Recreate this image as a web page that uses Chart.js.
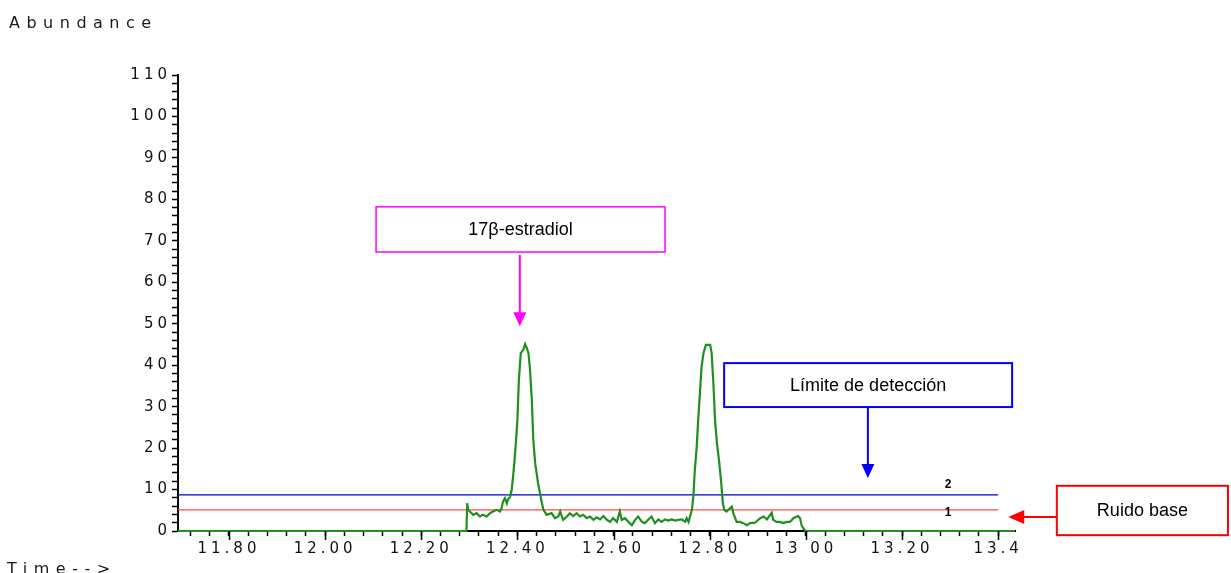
<!DOCTYPE html>
<html>
<head>
<meta charset="utf-8">
<script src="https://cdn.jsdelivr.net/npm/chart.js@4.4.1/dist/chart.umd.min.js"></script>
<style>
  html, body { margin: 0; padding: 0; background: #ffffff; }
  #wrap { width: 1231px; height: 573px; position: relative; }
</style>
</head>
<body>
<div id="wrap"><canvas id="c" width="1231" height="573"></canvas></div>
<script>
// ---------------- DATA ----------------
const times = [
  11.694, 12.294, 12.2955, 12.2975, 12.301, 12.308, 12.315, 12.322, 12.328, 12.336,
  12.343, 12.349, 12.357, 12.364, 12.367, 12.370, 12.374, 12.378, 12.380, 12.385,
  12.388, 12.391, 12.394, 12.396, 12.400, 12.403, 12.407, 12.412, 12.416, 12.420,
  12.423, 12.426, 12.430, 12.433, 12.437, 12.440, 12.443, 12.447, 12.451, 12.454,
  12.461, 12.471, 12.478, 12.485, 12.489, 12.495, 12.503, 12.509, 12.516, 12.523,
  12.530, 12.537, 12.544, 12.551, 12.558, 12.565, 12.572, 12.579, 12.586, 12.593,
  12.599, 12.607, 12.613, 12.617, 12.624, 12.631, 12.638, 12.645, 12.651, 12.659,
  12.665, 12.672, 12.679, 12.686, 12.693, 12.700, 12.707, 12.714, 12.721, 12.728,
  12.735, 12.742, 12.749, 12.752, 12.756, 12.759, 12.763, 12.766, 12.769, 12.773,
  12.776, 12.780, 12.783, 12.787, 12.792, 12.801, 12.804, 12.808, 12.811, 12.815,
  12.820, 12.824, 12.827, 12.830, 12.835, 12.842, 12.846, 12.849, 12.856, 12.863,
  12.870, 12.877, 12.884, 12.894, 12.905, 12.912, 12.919, 12.929, 12.932, 12.939,
  12.946, 12.953, 12.960, 12.967, 12.974, 12.984, 12.988, 12.991, 12.995, 12.999,
  13.435
];
const abundance = [
  0, 0, 6.7, 5.1, 4.7, 3.9, 4.3, 3.5, 3.9, 3.5,
  4.3, 4.7, 5.1, 4.7, 5.5, 7.1, 7.9, 6.7, 7.5, 8.3,
  9.9, 13.1, 17.1, 20.0, 26.8, 36.4, 42.9, 43.7, 45.1, 44.0,
  42.9, 39.2, 31.5, 22.0, 16.3, 13.9, 11.5, 9.1, 6.7, 5.1,
  3.9, 4.3, 3.1, 3.5, 4.7, 2.7, 3.5, 4.3, 3.6, 4.3,
  3.5, 3.9, 3.1, 3.5, 2.7, 3.3, 2.8, 3.6, 2.7, 2.2,
  3.1, 2.2, 4.7, 2.7, 3.1, 2.2, 1.4, 2.7, 3.5, 2.2,
  1.9, 2.7, 3.5, 1.9, 2.8, 2.2, 2.8, 2.5, 2.8, 2.5,
  2.7, 2.8, 2.2, 3.1, 2.2, 3.5, 5.1, 8.5, 14.7, 20.3,
  26.8, 34.0, 39.6, 42.9, 44.9, 44.9, 42.9, 34.8, 26.8, 21.2,
  16.3, 11.5, 7.1, 5.1, 4.7, 5.5, 5.9, 4.3, 2.2, 2.2,
  1.9, 1.4, 1.9, 2.0, 3.1, 3.5, 2.8, 4.4, 2.7, 2.2,
  2.2, 1.9, 2.2, 2.2, 3.1, 3.6, 3.1, 1.4, 0.6, 0,
  0
];
const noiseLevel = 5.1;        // line 1 (ruido base)
const detectionLimit = 8.7;    // line 2 (límite de detección)
const levelLineStart = 11.694;
const levelLineEnd = 13.40;

const xLabelValues = [11.80, 12.00, 12.20, 12.40, 12.60, 12.80, 13.00, 13.20, 13.40];
const xTickLabels  = ['11.80', '12.00', '12.20', '12.40', '12.60', '12.80', '13 00', '13.20', '13.4'];
const yLabelValues = [0, 10, 20, 30, 40, 50, 60, 70, 80, 90, 100, 110];
const yTickLabels  = ['0', '10', '20', '30', '40', '50', '60', '70', '80', '90', '100', '110'];

// ---------------- ANNOTATION LAYOUT (data units) ----------------
const notes = [
  { text: '17β-estradiol', x0: 12.106, x1: 12.707, y0: 67.3, y1: 78.2, color: '#ff00ff', lw: 1.5,
    arrow: { dir: 'down', x: 12.405, from: 66.6, to: 49.4 } },
  { text: 'Límite de detección', x0: 12.830, x1: 13.429, y0: 29.9, y1: 40.5, color: '#0000ff', lw: 2,
    arrow: { dir: 'down', x: 13.129, from: 29.8, to: 12.8 } },
  { text: 'Ruido base', x0: 13.522, x1: 13.878, y0: -1.0, y1: 10.9, color: '#ff0000', lw: 2,
    arrow: { dir: 'left', y: 3.4, from: 13.522, to: 13.421 } }
];

const points = times.map((t, i) => ({ x: t, y: abundance[i] }));

function near(a, b) { return Math.abs(a - b) < 1e-6; }

const FONT_AXIS = '"DejaVu Sans", sans-serif';

const annotationPlugin = {
  id: 'notes',
  beforeDraw(chart) {
    chart.ctx.letterSpacing = '4px';
  },
  beforeDatasetsDraw(chart) {
    chart.ctx.letterSpacing = '0px';
  },
  afterDraw(chart) {
    const ctx = chart.ctx;
    const xs = chart.scales.x, ys = chart.scales.y;
    ctx.save();
    ctx.letterSpacing = '0px';
    // taller ticks at labelled positions
    ctx.strokeStyle = '#000';
    ctx.lineWidth = 1.5;
    xLabelValues.forEach(v => {
      const px = Math.round(xs.getPixelForValue(v)) + 0.5;
      ctx.beginPath();
      ctx.moveTo(px, xs.top);
      ctx.lineTo(px, xs.top + 9);
      ctx.stroke();
    });
    // line labels 1 and 2
    ctx.fillStyle = '#000';
    ctx.font = 'bold 12px "Liberation Sans", Arial, sans-serif';
    ctx.textAlign = 'center';
    ctx.textBaseline = 'middle';
    ctx.fillText('2', xs.getPixelForValue(13.296), ys.getPixelForValue(detectionLimit) - 10);
    ctx.fillText('1', xs.getPixelForValue(13.296), ys.getPixelForValue(noiseLevel) + 2.5);

    // annotation boxes
    notes.forEach(n => {
      const l = xs.getPixelForValue(n.x0), r = xs.getPixelForValue(n.x1);
      const t = ys.getPixelForValue(n.y1), b = ys.getPixelForValue(n.y0);
      ctx.fillStyle = '#fff';
      ctx.fillRect(l, t, r - l, b - t);
      ctx.strokeStyle = n.color;
      ctx.lineWidth = n.lw;
      ctx.strokeRect(l, t, r - l, b - t);
      ctx.fillStyle = '#000';
      ctx.font = '18px "Liberation Sans", Arial, sans-serif';
      ctx.textAlign = 'center';
      ctx.textBaseline = 'middle';
      ctx.fillText(n.text, (l + r) / 2, (t + b) / 2 + 1);
      // arrow
      const a = n.arrow;
      ctx.strokeStyle = n.color;
      ctx.fillStyle = n.color;
      ctx.lineWidth = 2;
      if (a.dir === 'down') {
        const x = xs.getPixelForValue(a.x);
        const y0 = ys.getPixelForValue(a.from), y1 = ys.getPixelForValue(a.to);
        ctx.beginPath(); ctx.moveTo(x, y0); ctx.lineTo(x, y1 - 12); ctx.stroke();
        ctx.beginPath(); ctx.moveTo(x - 6.5, y1 - 14); ctx.lineTo(x + 6.5, y1 - 14); ctx.lineTo(x, y1); ctx.closePath(); ctx.fill();
      } else {
        const y = ys.getPixelForValue(a.y);
        const x0 = xs.getPixelForValue(a.from), x1 = xs.getPixelForValue(a.to);
        ctx.beginPath(); ctx.moveTo(x0, y); ctx.lineTo(x1 + 12, y); ctx.stroke();
        ctx.beginPath(); ctx.moveTo(x1 + 16, y - 7); ctx.lineTo(x1 + 16, y + 7); ctx.lineTo(x1, y); ctx.closePath(); ctx.fill();
      }
    });

    // axis captions
    ctx.fillStyle = '#1a1a1a';
    ctx.font = '16px ' + FONT_AXIS;
    ctx.letterSpacing = '6.5px';
    ctx.textAlign = 'left';
    ctx.textBaseline = 'alphabetic';
    ctx.fillText('Abundance', 9, 28);
    ctx.fillText('Time-->', 7, 574);
    ctx.restore();
  }
};

new Chart(document.getElementById('c'), {
  type: 'line',
  data: {
    datasets: [
      { label: 'TIC', data: points, borderColor: '#1f8f1f', borderWidth: 2.2, pointRadius: 0,
        tension: 0, clip: false, order: 0 },
      { label: 'ruido', data: [{ x: levelLineStart, y: noiseLevel }, { x: levelLineEnd, y: noiseLevel }],
        borderColor: '#ff4a4a', borderWidth: 1.2, pointRadius: 0, order: 1 },
      { label: 'limite', data: [{ x: levelLineStart, y: detectionLimit }, { x: levelLineEnd, y: detectionLimit }],
        borderColor: '#0000cc', borderWidth: 1.2, pointRadius: 0, order: 2 }
    ]
  },
  options: {
    responsive: false,
    animation: false,
    devicePixelRatio: 1,
    layout: { padding: { left: 0, top: 75, right: 216, bottom: 0 } },
    plugins: { legend: { display: false }, tooltip: { enabled: false } },
    scales: {
      x: {
        type: 'linear',
        min: 11.694,
        max: 13.435,
        afterBuildTicks(scale) {
          const t = [];
          for (let i = 0; i <= 42; i++) t.push({ value: +(11.72 + 0.04 * i).toFixed(2) });
          scale.ticks = t;
        },
        afterFit(scale) { scale.height = 42; },
        grid: { drawOnChartArea: false, drawTicks: true, tickLength: 5, tickColor: '#000', tickWidth: 1.5 },
        border: { display: true, color: '#000', width: 2 },
        ticks: {
          autoSkip: false, maxRotation: 0, minRotation: 0, padding: 4,
          color: '#111',
          font: { family: FONT_AXIS, size: 15 },
          callback(v) {
            const i = xLabelValues.findIndex(x => near(x, v));
            return i >= 0 ? xTickLabels[i] : '';
          }
        }
      },
      y: {
        type: 'linear',
        min: 0,
        max: 110,
        afterBuildTicks(scale) {
          const t = [];
          for (let v = 0; v <= 110; v += 2) t.push({ value: v });
          scale.ticks = t;
        },
        afterFit(scale) { scale.width = 178; },
        grid: { drawOnChartArea: false, drawTicks: true, tickLength: 6, tickColor: '#000', tickWidth: 1.5 },
        border: { display: true, color: '#000', width: 2 },
        ticks: {
          autoSkip: false, padding: 1,
          color: '#111',
          font: { family: FONT_AXIS, size: 15 },
          callback(v) {
            const i = yLabelValues.findIndex(y => near(y, v));
            return i >= 0 ? yTickLabels[i] : '';
          }
        }
      }
    }
  },
  plugins: [annotationPlugin]
});
</script>
</body>
</html>
